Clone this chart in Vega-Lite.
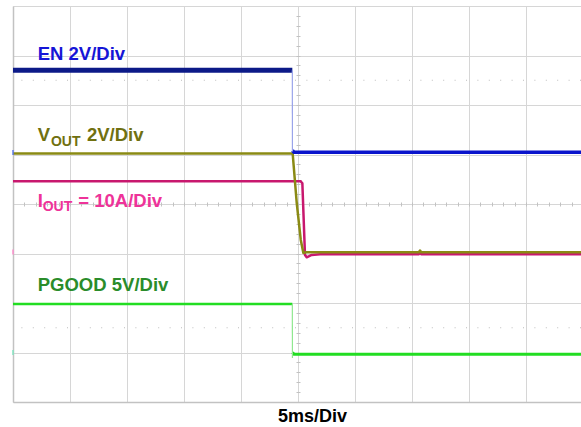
{
  "$schema": "https://vega.github.io/schema/vega-lite/v6.json",
  "width": 568,
  "height": 396,
  "autosize": {"type": "none"},
  "padding": {"left": 13, "top": 6, "right": 0, "bottom": 25},
  "background": "white",
  "config": {"view": {"stroke": null}, "font": "Liberation Sans"},
  "datasets": {
    "graticule": [{"v": 2.5}, {"v": -2.5}],
    "markers": [
      {"signal": "EN", "t": -25, "v": 1.04},
      {"signal": "IOUT", "t": -25, "v": -0.97},
      {"signal": "PGOOD", "t": -25, "v": -3.0}
    ],
    "traces": [
      {"trace": "PGOOD_hi", "t": -25, "v": -2.02},
      {"trace": "PGOOD_hi", "t": -0.5, "v": -2.02},
      {"trace": "PGOOD_drop", "t": -0.5, "v": -2.02},
      {"trace": "PGOOD_drop", "t": -0.49, "v": -3.11},
      {"trace": "PGOOD_lo", "t": -0.48, "v": -3.0},
      {"trace": "PGOOD_lo", "t": -0.35, "v": -3.036},
      {"trace": "PGOOD_lo", "t": 24.82, "v": -3.036},
      {"trace": "IOUT", "t": -25, "v": 0.46},
      {"trace": "IOUT", "t": 0.24, "v": 0.46},
      {"trace": "IOUT", "t": 0.3, "v": 0.44},
      {"trace": "IOUT", "t": 0.38, "v": 0.418},
      {"trace": "IOUT", "t": 0.61, "v": -1.03},
      {"trace": "IOUT", "t": 0.76, "v": -1.077},
      {"trace": "IOUT", "t": 1.2, "v": -1.03},
      {"trace": "IOUT", "t": 1.93, "v": -1.014},
      {"trace": "IOUT", "t": 10.6, "v": -1.014},
      {"trace": "IOUT", "t": 10.7, "v": -0.97},
      {"trace": "IOUT", "t": 10.8, "v": -1.014},
      {"trace": "IOUT", "t": 24.82, "v": -1.014},
      {"trace": "VOUT", "t": -25, "v": 1.02},
      {"trace": "VOUT", "t": -0.47, "v": 1.02},
      {"trace": "VOUT", "t": -0.11, "v": 0.014},
      {"trace": "VOUT", "t": 0.24, "v": -0.727},
      {"trace": "VOUT", "t": 0.47, "v": -0.99},
      {"trace": "VOUT", "t": 0.7, "v": -0.975},
      {"trace": "VOUT", "t": 10.6, "v": -0.975},
      {"trace": "VOUT", "t": 10.7, "v": -0.94},
      {"trace": "VOUT", "t": 10.8, "v": -0.975},
      {"trace": "VOUT", "t": 24.82, "v": -0.975},
      {"trace": "EN_hi", "t": -25, "v": 2.7},
      {"trace": "EN_hi", "t": -0.5, "v": 2.7},
      {"trace": "EN_drop", "t": -0.5, "v": 2.7},
      {"trace": "EN_drop", "t": -0.49, "v": 1.06},
      {"trace": "EN_lo", "t": -0.49, "v": 1.08},
      {"trace": "EN_lo", "t": -0.35, "v": 1.045},
      {"trace": "EN_lo", "t": 24.82, "v": 1.045}
    ],
    "labels": [
      {"signal": "EN", "part": "main", "text": "EN 2V/Div", "t": -22.83, "v": 2.909},
      {"signal": "VOUT", "part": "main", "text": "V", "t": -22.83, "v": 1.273},
      {"signal": "VOUT", "part": "sub", "text": "OUT", "t": -21.67, "v": 1.178},
      {"signal": "VOUT", "part": "main", "text": "2V/Div", "t": -18.51, "v": 1.273},
      {"signal": "IOUT", "part": "main", "text": "I", "t": -22.83, "v": -0.051},
      {"signal": "IOUT", "part": "sub", "text": "OUT", "t": -22.4, "v": -0.141},
      {"signal": "IOUT", "part": "main", "text": "= 10A/Div", "t": -19.27, "v": -0.051},
      {"signal": "PGOOD", "part": "main", "text": "PGOOD 5V/Div", "t": -22.83, "v": -1.758}
    ]
  },
  "resolve": {
    "scale": {"color": "independent"},
    "axis": {"x": "independent", "y": "independent"}
  },
  "layer": [
    {
      "data": {"name": "graticule"},
      "mark": {"type": "rule", "color": "#bdbdbd", "strokeWidth": 1, "strokeDash": [1, 10.4]},
      "encoding": {
        "y": {"field": "v", "type": "quantitative", "scale": {"domain": [-4, 4], "nice": false, "zero": false}, "axis": null}
      }
    },
    {
      "data": {"name": "traces"},
      "encoding": {
        "x": {
          "field": "t", "type": "quantitative",
          "scale": {"domain": [-25, 24.82], "nice": false, "zero": false},
          "axis": {
            "orient": "bottom", "zindex": 0,
            "values": [-25, -20, -15, -10, -5, 0, 5, 10, 15, 20],
            "grid": true, "gridColor": "#d6d6d6", "gridWidth": 1,
            "labels": false, "ticks": false,
            "domain": true, "domainColor": "#c2c2c2", "domainWidth": 1.5,
            "title": "5ms/Div", "titleFont": "Liberation Sans", "titleFontSize": 18,
            "titleFontWeight": "bold", "titleColor": "#000000",
            "titleX": 299, "titleY": 19, "titleAlign": "center", "titleBaseline": "alphabetic"
          }
        },
        "y": {
          "field": "v", "type": "quantitative",
          "scale": {"domain": [-4, 4], "nice": false, "zero": false},
          "axis": {
            "orient": "left", "zindex": 0,
            "values": [-4, -3, -2, -1, 0, 1, 2, 3, 4],
            "grid": true, "gridColor": "#d6d6d6", "gridWidth": 1,
            "labels": false, "ticks": false,
            "domain": true, "domainColor": "#c2c2c2", "domainWidth": 1.5,
            "title": null
          }
        },
        "detail": {"field": "trace"},
        "color": {
          "field": "trace", "type": "nominal", "legend": null,
          "scale": {
            "domain": ["PGOOD_hi", "PGOOD_drop", "PGOOD_lo", "IOUT", "VOUT", "EN_hi", "EN_drop", "EN_lo"],
            "range": ["#22dd22", "#90e890", "#22dd22", "#c8186e", "#8a8a14", "#0c1a88", "#9aa4ea", "#0a14cc"]
          }
        }
      },
      "layer": [
        {
          "transform": [{"filter": "datum.trace === 'PGOOD_hi'"}],
          "mark": {"type": "line", "strokeWidth": 2.5, "strokeCap": "butt"}
        },
        {
          "transform": [{"filter": "datum.trace === 'PGOOD_lo'"}],
          "mark": {"type": "line", "strokeWidth": 3, "strokeCap": "butt"}
        },
        {
          "transform": [{"filter": "datum.trace === 'IOUT'"}],
          "mark": {"type": "line", "strokeWidth": 2.5, "strokeCap": "butt", "strokeJoin": "round"}
        },
        {
          "transform": [{"filter": "datum.trace === 'VOUT'"}],
          "mark": {"type": "line", "strokeWidth": 2.5, "strokeCap": "butt", "strokeJoin": "round"}
        },
        {
          "transform": [{"filter": "datum.trace === 'EN_hi'"}],
          "mark": {"type": "line", "strokeWidth": 5, "strokeCap": "butt"}
        },
        {
          "transform": [{"filter": "datum.trace === 'EN_lo'"}],
          "mark": {"type": "line", "strokeWidth": 3.5, "strokeCap": "butt"}
        },
        {
          "transform": [{"filter": "datum.trace === 'EN_drop' || datum.trace === 'PGOOD_drop'"}],
          "mark": {"type": "line", "strokeWidth": 1.2, "strokeCap": "butt"}
        }
      ]
    },
    {
      "data": {"name": "labels"},
      "transform": [{"filter": "datum.part === 'main'"}],
      "mark": {"type": "text", "align": "left", "baseline": "alphabetic", "font": "Liberation Sans", "fontSize": 18.5, "fontWeight": "bold"},
      "encoding": {
        "x": {
          "field": "t", "type": "quantitative",
          "axis": {
            "orient": "top", "offset": -200, "zindex": 0,
            "values": [-24, -23, -22, -21, -20, -19, -18, -17, -16, -15, -14, -13, -12, -11, -10, -9, -8, -7, -6, -5, -4, -3, -2, -1, 0, 1, 2, 3, 4, 5, 6, 7, 8, 9, 10, 11, 12, 13, 14, 15, 16, 17, 18, 19, 20, 21, 22, 23, 24],
            "grid": false, "labels": false, "domain": false,
            "ticks": true, "tickSize": 4, "tickColor": "#c2c2c2", "tickWidth": 1,
            "title": null
          }
        },
        "y": {
          "field": "v", "type": "quantitative",
          "axis": {
            "orient": "right", "offset": -285, "zindex": 0,
            "values": [-3.8, -3.6, -3.4, -3.2, -3, -2.8, -2.6, -2.4, -2.2, -2, -1.8, -1.6, -1.4, -1.2, -1, -0.8, -0.6, -0.4, -0.2, 0, 0.2, 0.4, 0.6, 0.8, 1, 1.2, 1.4, 1.6, 1.8, 2, 2.2, 2.4, 2.6, 2.8, 3, 3.2, 3.4, 3.6, 3.8],
            "grid": false, "labels": false, "domain": false,
            "ticks": true, "tickSize": 4, "tickColor": "#c2c2c2", "tickWidth": 1,
            "title": null
          }
        },
        "text": {"field": "text"},
        "color": {
          "field": "signal", "type": "nominal", "legend": null,
          "scale": {"domain": ["EN", "VOUT", "IOUT", "PGOOD"], "range": ["#1515d6", "#707010", "#ee3399", "#2a8c2a"]}
        }
      }
    },
    {
      "data": {"name": "labels"},
      "transform": [{"filter": "datum.part === 'sub'"}],
      "mark": {"type": "text", "align": "left", "baseline": "alphabetic", "font": "Liberation Sans", "fontSize": 14, "fontWeight": "bold"},
      "encoding": {
        "x": {"field": "t", "type": "quantitative", "axis": null},
        "y": {"field": "v", "type": "quantitative", "axis": null},
        "text": {"field": "text"},
        "color": {
          "field": "signal", "type": "nominal", "legend": null,
          "scale": {"domain": ["EN", "VOUT", "IOUT", "PGOOD"], "range": ["#1515d6", "#707010", "#ee3399", "#2a8c2a"]}
        }
      }
    },
    {
      "data": {"name": "markers"},
      "mark": {"type": "tick", "orient": "vertical", "size": 5, "thickness": 2},
      "encoding": {
        "x": {"field": "t", "type": "quantitative", "axis": null},
        "y": {"field": "v", "type": "quantitative", "axis": null},
        "color": {
          "field": "signal", "type": "nominal", "legend": null,
          "scale": {"domain": ["EN", "IOUT", "PGOOD"], "range": ["#5a78f0", "#ff8ccc", "#7fe6c0"]}
        }
      }
    }
  ]
}
